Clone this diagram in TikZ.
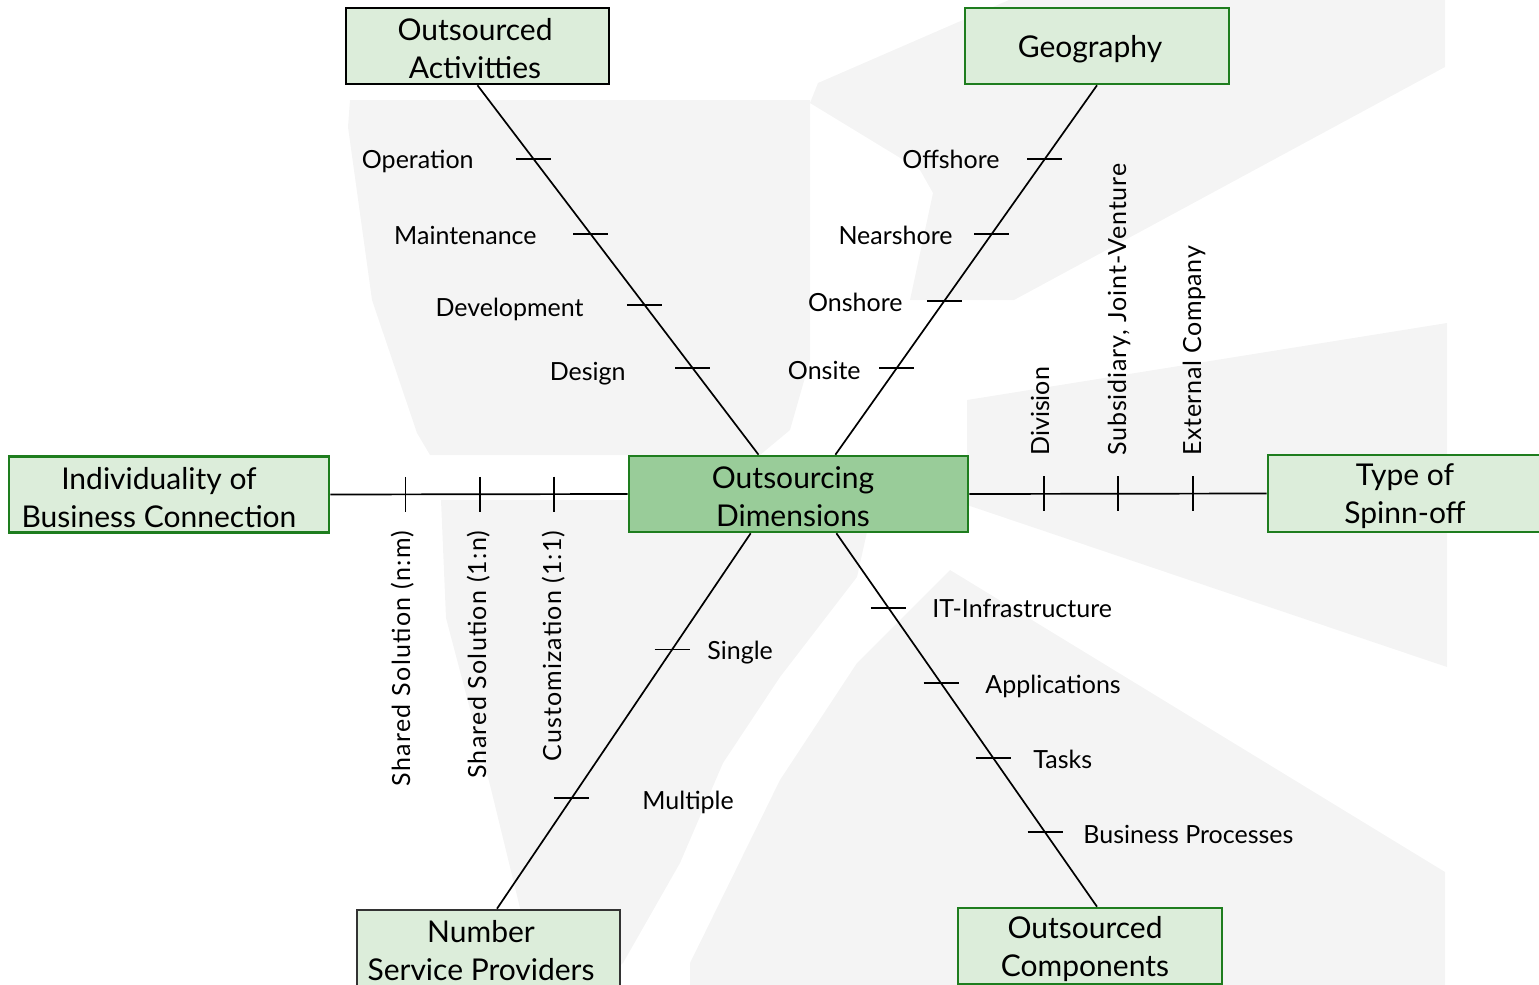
\documentclass[tikz,border=0pt]{standalone}
\usepackage{fontspec}
\setmainfont{Lato}
\usetikzlibrary{calc}
\definecolor{lgreen}{RGB}{220,237,218}
\definecolor{mgreen}{RGB}{153,204,153}
\definecolor{dgreen}{RGB}{30,125,30}
\definecolor{bggray}{RGB}{244,244,244}
\newcommand\bxfont{\fontsize{15}{19}\selectfont}
\newcommand\lbfont{\fontsize{12.5}{15}\selectfont}
\begin{document}
\begin{tikzpicture}[x=0.5pt,y=-0.5pt,
  box/.style={draw=dgreen, line width=1.3pt, fill=lgreen, inner sep=0pt, minimum height=38pt},
  btxt/.style={align=center, font=\bxfont, inner sep=0pt},
  lbl/.style={font=\lbfont, inner sep=0pt},
  ln/.style={line width=0.85pt}]
\useasboundingbox (0,0) rectangle (1539,985);
% faint background regions
\fill[bggray] (350,100) -- (810,100) -- (810,360) -- (790,430) -- (760,455) -- (430,455) -- (417,433) -- (372,300) -- (348,127) -- cycle;
\fill[bggray] (1009,0) -- (1445,0) -- (1445,67) -- (1014,300) -- (910,300) -- (933,193) -- (920,170) -- (810,103) -- (818,83) -- cycle;
\fill[bggray] (967,400) -- (1447,323) -- (1447,667) -- (967,505) -- cycle;
\fill[bggray] (441,500) -- (629,500) -- (629,532) -- (867,532) -- (857,577) -- (780,677) -- (723,763) -- (680,863) -- (623,963) -- (600,985) -- (520,985) -- (520,908) -- (490,785) -- (446,618) -- cycle;
\fill[bggray] (950,570) -- (1445,872) -- (1445,985) -- (690,985) -- (690,963) -- (780,780) -- (857,663) -- (893,627) -- cycle;
% boxes
\node[box, draw=black, minimum width=131.5pt] (act) at (477.5,46) {};
\node[box, minimum width=132pt] (geo) at (1097,46) {};
\node[box, minimum width=160pt] (ind) at (169,494.5) {};
\node[box, minimum width=138.5pt, minimum height=38.5pt] (typ) at (1406.5,493.5) {};
\node[box, fill=mgreen, minimum width=169.5pt] (ctr) at (798.5,494) {};
\node[box, draw=black!80, minimum width=131.5pt] (num) at (488.5,948) {};
\node[box, minimum width=132pt] (comp) at (1090,946) {};
% box texts
\node[btxt] (actT) at (475,49) {Outsourced\\Activitties};
\node[btxt] (geoT) at (1090,49) {Geography};
\node[btxt] (indT) at (159,497.5) {Individuality of\\Business Connection};
\node[btxt] (typT) at (1405,496.5) {Type of\\Spinn-off};
\node[btxt] (ctrT) at (793,497) {Outsourcing\\Dimensions};
\node[btxt] (numT) at (481,951) {Number\\Service Providers};
\node[btxt] (compT) at (1085,949) {Outsourced\\Components};
% connectors
\draw[ln] (act.south) -- ($(ctr.north west)!0.383!(ctr.north east)$) coordinate (aEnd);
\foreach \t in {0.199,0.403,0.594,0.766}
  \draw[ln] ($(act.south)!\t!(aEnd)$) +(-17.5,0) -- +(17.5,0);
\draw[ln] (geo.south) -- ($(ctr.north west)!0.608!(ctr.north east)$) coordinate (gEnd);
\foreach \t in {0.199,0.403,0.583,0.766}
  \draw[ln] ($(geo.south)!\t!(gEnd)$) +(-17.5,0) -- +(17.5,0);
\draw[ln] ($(ctr.south west)!0.36!(ctr.south east)$) coordinate (nStart) -- ([xshift=4.25pt]num.north) coordinate (nEnd);
\foreach \t in {0.3095,0.706}
  \draw[ln] ($(nStart)!\t!(nEnd)$) +(-17.5,0) -- +(17.5,0);
\draw[ln] ($(ctr.south west)!0.611!(ctr.south east)$) coordinate (cStart) -- ([xshift=3.5pt]comp.north) coordinate (cEnd);
\foreach \t in {0.1995,0.4016,0.601,0.8005}
  \draw[ln] ($(cStart)!\t!(cEnd)$) +(-17.5,0) -- +(17.5,0);
\draw[ln] (ind.east) -- (ctr.west);
\foreach \t in {0.2533,0.5033,0.7533}
  \draw[ln] ($(ind.east)!\t!(ctr.west)$) +(0,-17.5) -- +(0,17.5);
\draw[ln] (ctr.east) -- (typ.west);
\foreach \t in {0.25,0.5,0.7533}
  \draw[ln] ($(ctr.east)!\t!(typ.west)$) +(0,-17.5) -- +(0,17.5);
% labels
\node[lbl, anchor=mid east] (l1) at (474,163) {Operation};
\node[lbl, anchor=mid east] (l2) at (537,239) {Maintenance};
\node[lbl, anchor=mid east] (l3) at (584,311) {Development};
\node[lbl, anchor=mid east] (l4) at (626,375) {Design};
\node[lbl, anchor=mid east] (l5) at (1000,163) {Offshore};
\node[lbl, anchor=mid east] (l6) at (953,239) {Nearshore};
\node[lbl, anchor=mid east] (l7) at (903,306) {Onshore};
\node[lbl, anchor=mid east] (l8) at (861,374) {Onsite};
\node[lbl, anchor=mid west] (l9) at (707,654) {Single};
\node[lbl, anchor=mid west] (l10) at (642,804) {Multiple};
\node[lbl, anchor=mid west] (l11) at (932,612) {IT-Infrastructure};
\node[lbl, anchor=mid west] (l12) at (985,688) {Applications};
\node[lbl, anchor=mid west] (l13) at (1033,763) {Tasks};
\node[lbl, anchor=mid west] (l14) at (1083,838) {Business Processes};
\node[lbl, anchor=mid east, rotate=90] (l15) at (405,530) {\addfontfeatures{LetterSpace=5.5}Shared Solution (n:m)};
\node[lbl, anchor=mid east, rotate=90] (l16) at (481,530) {\addfontfeatures{LetterSpace=5}Shared Solution (1:n)};
\node[lbl, anchor=mid east, rotate=90] (l17) at (556,530) {\addfontfeatures{LetterSpace=4.5}Customization (1:1)};
\node[lbl, anchor=mid west, rotate=90] (l18) at (1044,456) {Division};
\node[lbl, anchor=mid west, rotate=90] (l19) at (1121,456) {\addfontfeatures{LetterSpace=3.5}Subsidiary, Joint-Venture};
\node[lbl, anchor=mid west, rotate=90] (l20) at (1196,456) {\addfontfeatures{LetterSpace=2.5}External Company};
\end{tikzpicture}
\end{document}
